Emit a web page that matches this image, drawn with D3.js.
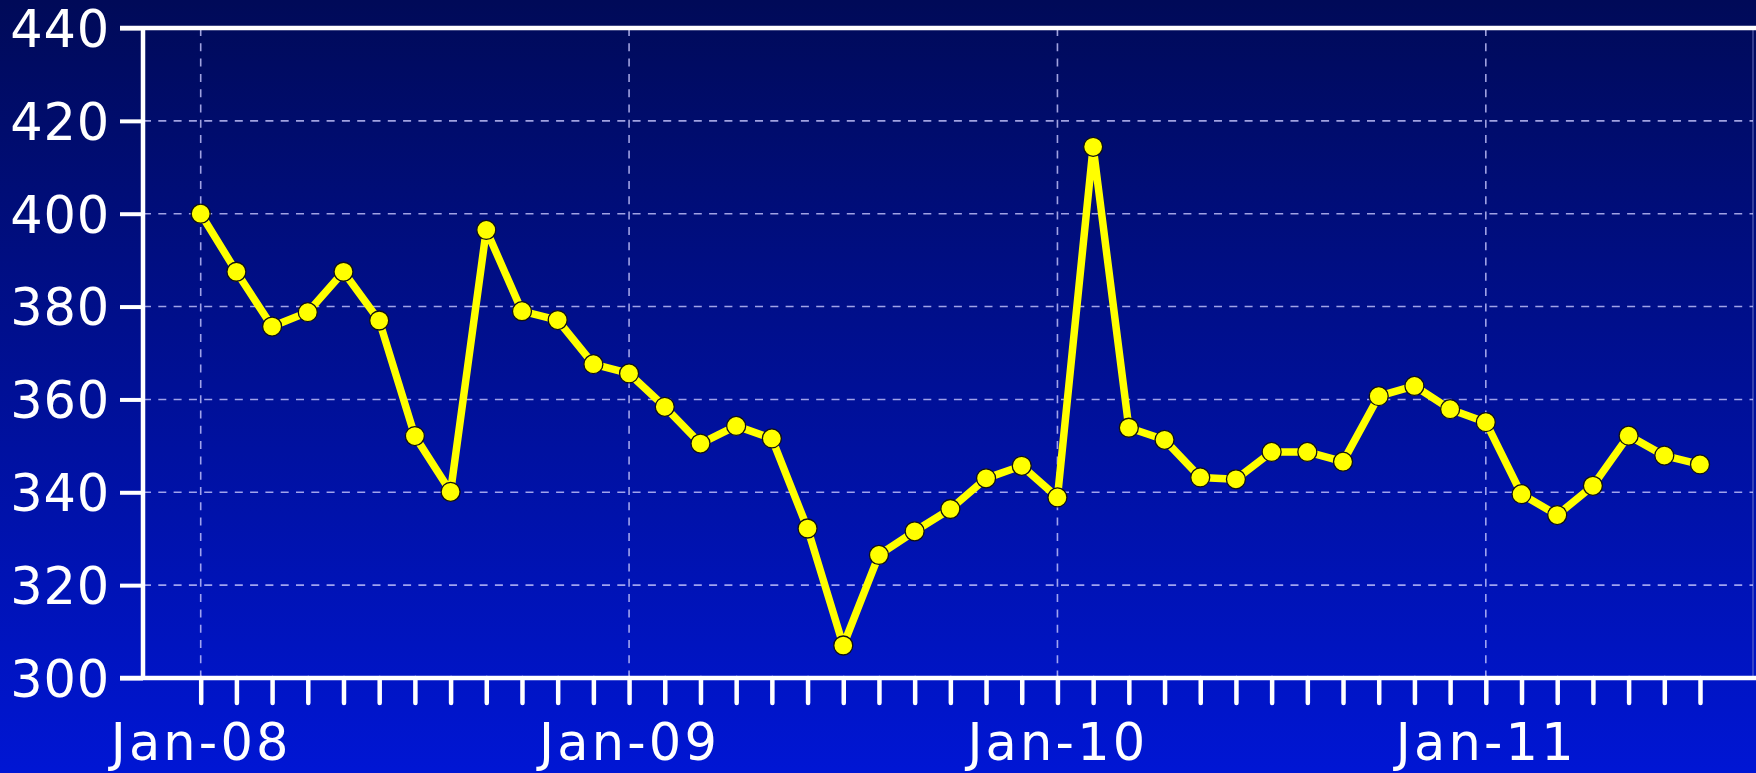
<!DOCTYPE html>
<html>
<head>
<meta charset="utf-8">
<script src="https://cdn.jsdelivr.net/npm/d3@7"></script>
<style>
  html, body { margin: 0; padding: 0; overflow: hidden; }
  body { background: #000b5a; }
</style>
</head>
<body>
<div id="content"></div>
<script>
var width = 1756,
    height = 773;

// month categories, Jan-08 .. Jul-11
var months = [
    "Jan-08", "Feb-08", "Mar-08", "Apr-08", "May-08", "Jun-08", "Jul-08", "Aug-08", "Sep-08", "Oct-08", "Nov-08", "Dec-08",
    "Jan-09", "Feb-09", "Mar-09", "Apr-09", "May-09", "Jun-09", "Jul-09", "Aug-09", "Sep-09", "Oct-09", "Nov-09", "Dec-09",
    "Jan-10", "Feb-10", "Mar-10", "Apr-10", "May-10", "Jun-10", "Jul-10", "Aug-10", "Sep-10", "Oct-10", "Nov-10", "Dec-10",
    "Jan-11", "Feb-11", "Mar-11", "Apr-11", "May-11", "Jun-11", "Jul-11"
];

var values = [
    400, 387.5, 375.7, 378.8, 387.5, 377, 352.1, 340.1, 396.5, 379, 377.1, 367.6,
    365.6, 358.4, 350.5, 354.3, 351.6, 332.2, 307, 326.5, 331.6, 336.4, 343, 345.7,
    338.9, 414.4, 353.9, 351.3, 343.2, 342.8, 348.7, 348.7, 346.6, 360.7, 362.9, 357.9,
    355.1, 339.6, 335.1, 341.4, 352.2, 347.9, 346
];

var yTicks = [300, 320, 340, 360, 380, 400, 420, 440];
var xLabels = ["Jan-08", "Jan-09", "Jan-10", "Jan-11"];

var plotLeft = 143, plotRight = 1753, plotTop = 28, plotBottom = 678;

var svg = d3.select("#content")
    .append("svg")
    .attr("width", width)
    .attr("height", height)
    .style("display", "block");

var defs = svg.append("defs");
var grad = defs.append("linearGradient")
    .attr("id", "bg")
    .attr("x1", 0).attr("y1", 0).attr("x2", 0).attr("y2", 1);
grad.append("stop").attr("offset", "0%").attr("stop-color", "#000a58");
grad.append("stop").attr("offset", "100%").attr("stop-color", "#0016d4");

svg.append("rect")
    .attr("width", width)
    .attr("height", height)
    .attr("fill", "url(#bg)");

var x = d3.scalePoint()
    .domain(months)
    .range([200.7, 1700]);

var y = d3.scaleLinear()
    .domain([300, 440])
    .range([plotBottom, plotTop]);

// faint right edge of the plot area
svg.append("line")
    .attr("x1", plotRight).attr("x2", plotRight)
    .attr("y1", plotTop).attr("y2", plotBottom)
    .attr("stroke", "#8a8fd8")
    .attr("stroke-opacity", 0.5)
    .attr("stroke-width", 1.5);

// horizontal grid
svg.append("g")
    .selectAll("line")
    .data(yTicks.filter(function (d) { return d > 300 && d < 440; }))
    .enter()
    .append("line")
    .attr("x1", plotLeft)
    .attr("x2", plotRight)
    .attr("y1", function (d) { return y(d); })
    .attr("y2", function (d) { return y(d); })
    .attr("stroke", "#c8c8ff")
    .attr("stroke-opacity", 0.8)
    .attr("stroke-width", 1.6)
    .attr("stroke-dasharray", "8,7.3");

// vertical grid at each January
svg.append("g")
    .selectAll("line")
    .data(xLabels)
    .enter()
    .append("line")
    .attr("x1", function (d) { return x(d); })
    .attr("x2", function (d) { return x(d); })
    .attr("y1", plotTop)
    .attr("y2", plotBottom)
    .attr("stroke", "#c8c8ff")
    .attr("stroke-opacity", 0.8)
    .attr("stroke-width", 1.6)
    .attr("stroke-dasharray", "8,7.3");

// y axis
var yAxis = svg.append("g")
    .attr("transform", "translate(" + plotLeft + ",0)")
    .call(d3.axisLeft(y).tickValues(yTicks).tickSize(23).tickPadding(10));

yAxis.select(".domain").remove();
yAxis.selectAll(".tick line")
    .attr("stroke", "white")
    .attr("stroke-width", 4);
yAxis.selectAll(".tick text")
    .attr("fill", "white")
    .attr("dy", "0.36em")
    .style("font-family", "'DejaVu Sans', Verdana, sans-serif")
    .style("font-size", "51px")
    .style("letter-spacing", "0.8px");

// x axis: a tick per month, labels only on Januaries
var xAxis = svg.append("g")
    .attr("transform", "translate(0," + plotBottom + ")")
    .call(d3.axisBottom(x)
        .tickSize(25)
        .tickPadding(21)
        .tickFormat(function (d) { return xLabels.indexOf(d) >= 0 ? d : ""; }));

xAxis.select(".domain").remove();
xAxis.selectAll(".tick line")
    .attr("stroke", "white")
    .attr("stroke-width", 4.5)
    .attr("stroke-linecap", "round");
xAxis.selectAll(".tick text")
    .attr("fill", "white")
    .style("font-family", "'DejaVu Sans', Verdana, sans-serif")
    .style("font-size", "51px")
    .style("letter-spacing", "3.2px");

// axis frame lines
svg.append("line")
    .attr("x1", plotLeft).attr("x2", plotLeft)
    .attr("y1", plotTop - 2).attr("y2", plotBottom + 2)
    .attr("stroke", "white").attr("stroke-width", 4.5);
svg.append("line")
    .attr("x1", 120).attr("x2", width)
    .attr("y1", plotTop).attr("y2", plotTop)
    .attr("stroke", "white").attr("stroke-width", 4.5);
svg.append("line")
    .attr("x1", 120).attr("x2", width)
    .attr("y1", plotBottom).attr("y2", plotBottom)
    .attr("stroke", "white").attr("stroke-width", 4.5);

// data line
var line = d3.line()
    .x(function (d, i) { return x(months[i]); })
    .y(function (d) { return y(d); });

svg.append("path")
    .datum(values)
    .attr("d", line)
    .attr("fill", "none")
    .attr("stroke", "#ffff00")
    .attr("stroke-width", 7.5)
    .attr("stroke-linejoin", "round");

svg.append("g")
    .selectAll("circle")
    .data(values)
    .enter()
    .append("circle")
    .attr("cx", function (d, i) { return x(months[i]); })
    .attr("cy", function (d) { return y(d); })
    .attr("r", 9.5)
    .attr("fill", "#ffff00")
    .attr("stroke", "#111")
    .attr("stroke-width", 1.3);
</script>
</body>
</html>
